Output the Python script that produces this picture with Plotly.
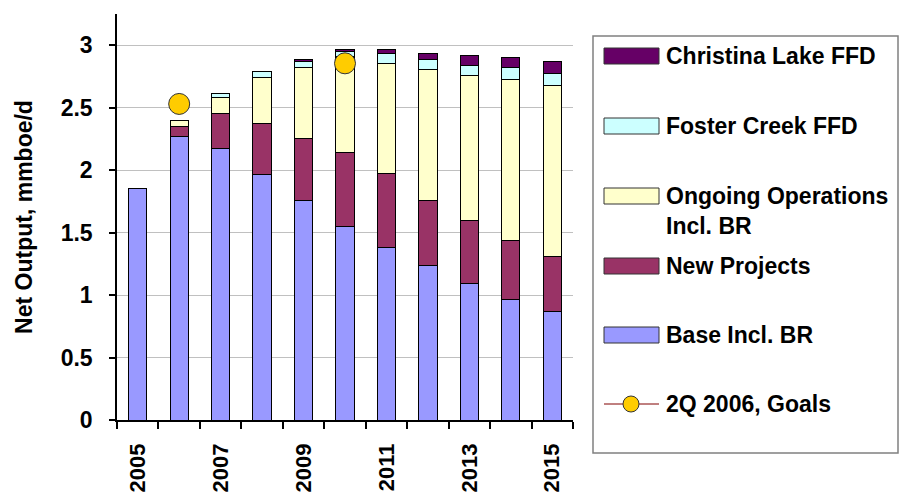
import plotly.graph_objects as go

# ---------------- data ----------------
years = list(range(2005, 2016))
label_years = [2005, 2007, 2009, 2011, 2013, 2015]
base_incl_br = [1.85, 2.27, 2.17, 1.965, 1.76, 1.55, 1.38, 1.235, 1.093, 0.968, 0.87]
new_projects = [None, 0.08, 0.28, 0.41, 0.49, 0.59, 0.59, 0.525, 0.504, 0.472, 0.442]
ongoing_ops = [None, 0.05, 0.13, 0.365, 0.57, 0.77, 0.885, 1.045, 1.16, 1.288, 1.365]
foster_ffd = [None, None, 0.03, 0.05, 0.05, 0.04, 0.08, 0.078, 0.08, 0.093, 0.096]
christina_ffd = [None, None, None, None, 0.018, 0.013, 0.032, 0.053, 0.08, 0.08, 0.096]
goals_2q2006 = [None, 2.53, None, None, None, 2.855, None, None, None, None, None]

series = [
    ("Base Incl. BR", base_incl_br, "#9999FF"),
    ("New Projects", new_projects, "#993366"),
    ("Ongoing Operations<br>Incl. BR", ongoing_ops, "#FFFFCC"),
    ("Foster Creek FFD", foster_ffd, "#CCFFFF"),
    ("Christina Lake FFD", christina_ffd, "#660066"),
]
goal_name = "2Q 2006, Goals"

FONT = "Liberation Sans, Arial, sans-serif"

# plot-area geometry (pixels)
W, H = 900, 494
L, R, T, B = 117, 573, 14, 420

fig = go.Figure()
for name, vals, col in series:
    fig.add_trace(go.Bar(
        x=years, y=vals, name=name, width=0.44,
        marker=dict(color=col, line=dict(color="black", width=1)),
        showlegend=False,
    ))

fig.add_trace(go.Scatter(
    x=years, y=goals_2q2006, name=goal_name, mode="lines+markers",
    line=dict(color="#800000", width=1),
    marker=dict(size=21, color="#FFCC00", line=dict(color="#333333", width=1)),
    connectgaps=False, showlegend=False,
))

fig.update_layout(
    width=W, height=H, barmode="stack",
    margin=dict(l=L, r=W - R, t=T, b=H - B),
    plot_bgcolor="white", paper_bgcolor="white",
    font=dict(family=FONT, size=23, color="black", weight="bold"),
)

fig.update_xaxes(
    automargin=False,
    range=[2004.5, 2015.5], tickmode="array", tickvals=label_years,
    ticktext=[str(y) for y in label_years], ticks="", tickangle=-90,
    ticklabelstandoff=13,
    showline=True, linecolor="black", linewidth=1.5, showgrid=False, zeroline=False,
    minor=dict(tick0=2004.5, dtick=1, ticks="outside", ticklen=7,
               tickcolor="black", tickwidth=1.5, showgrid=False),
    tickfont=dict(size=22),
)
fig.update_yaxes(
    automargin=False,
    range=[0, 3.25], tick0=0, dtick=0.5, ticks="outside", ticklen=6,
    tickcolor="black", tickwidth=1.5, ticklabelstandoff=12,
    showline=True, linecolor="black", linewidth=1.5,
    showgrid=True, gridcolor="#C0C0C0", gridwidth=1, zeroline=False,
    title=dict(text="Net Output, mmboe/d", standoff=22, font=dict(size=23)),
)

# ---------------- legend (drawn box) ----------------
def px_x(px):
    return (px - L) / (R - L)

def px_y(py):
    return (B - py) / (B - T)

shapes = [dict(type="rect", xref="paper", yref="paper",
               x0=px_x(593), x1=px_x(898), y0=px_y(453), y1=px_y(36),
               line=dict(color="#808080", width=1.5), fillcolor="white", layer="below")]
annotations = []
entry_y = [56, 126, 196, 266, 335]
for (name, vals, col), yc in zip(reversed(series), entry_y):
    shapes.append(dict(type="rect", xref="paper", yref="paper",
                       x0=px_x(604), x1=px_x(659), y0=px_y(yc + 8), y1=px_y(yc - 8),
                       line=dict(color="#333333", width=1), fillcolor=col))
    if "<br>" in name:
        annotations.append(dict(xref="paper", yref="paper", x=px_x(664), y=px_y(yc - 15),
                                text=name, showarrow=False, xanchor="left", yanchor="top",
                                align="left", font=dict(size=23)))
    else:
        annotations.append(dict(xref="paper", yref="paper", x=px_x(664), y=px_y(yc),
                                text=name, showarrow=False, xanchor="left", yanchor="middle",
                                align="left", font=dict(size=23)))
gy = 404
shapes.append(dict(type="line", xref="paper", yref="paper",
                   x0=px_x(604), x1=px_x(659), y0=px_y(gy), y1=px_y(gy),
                   line=dict(color="#800000", width=1)))
shapes.append(dict(type="circle", xref="paper", yref="paper",
                   x0=px_x(623), x1=px_x(639), y0=px_y(gy + 8), y1=px_y(gy - 8),
                   line=dict(color="#333333", width=1), fillcolor="#FFCC00"))
annotations.append(dict(xref="paper", yref="paper", x=px_x(664), y=px_y(gy),
                        text=goal_name, showarrow=False, xanchor="left", yanchor="middle",
                        align="left", font=dict(size=23)))

fig.update_layout(shapes=shapes, annotations=annotations)

fig.write_html("out.html")
